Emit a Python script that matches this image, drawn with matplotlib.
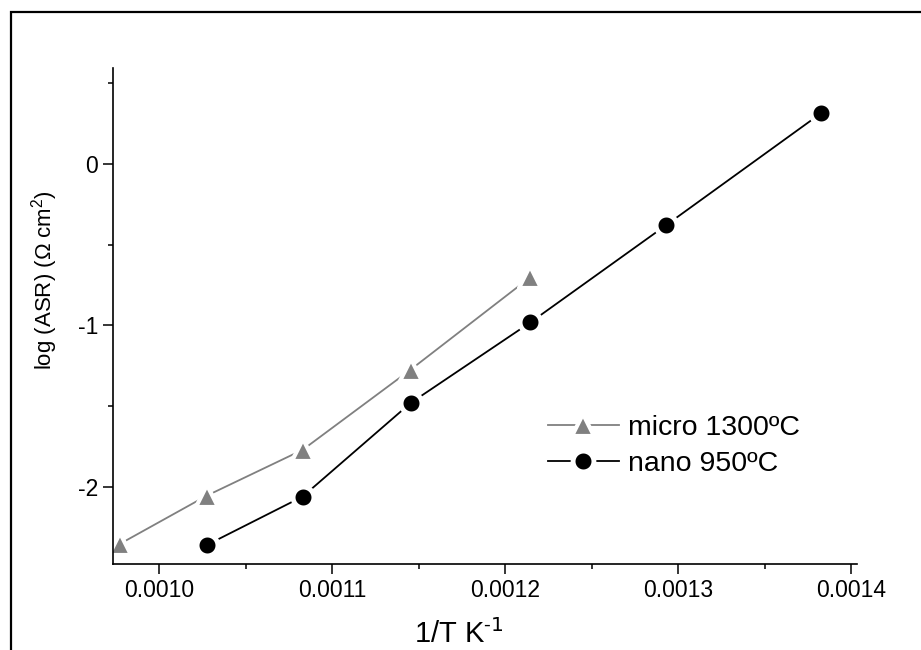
import numpy as np
import matplotlib
matplotlib.use("Agg")
from matplotlib import pyplot as plt
from matplotlib.markers import MarkerStyle
from matplotlib.patches import Rectangle
from matplotlib.ticker import MultipleLocator

# data
micro_x = [0.0009775, 0.0010275, 0.0010830, 0.0011453, 0.0012146]
micro_y = [-2.35, -2.053, -1.769, -1.274, -0.701]
nano_x = [0.0010275, 0.0010830, 0.0011453, 0.0012146, 0.0012931, 0.0013826]
nano_y = [-2.358, -2.058, -1.480, -0.981, -0.379, 0.313]
labels = ["micro 1300ºC", "nano 950ºC"]

plt.rcParams['font.family'] = ['Liberation Sans', 'DejaVu Sans']
plt.rcParams['axes.unicode_minus'] = False


def main():
    fig = plt.figure(figsize=(9.21, 6.5), dpi=100)
    # frame around the figure, cut at right and bottom
    fig.patches.append(Rectangle((11 / 921, -0.1), 2.0, 0.1 + (650 - 12) / 650,
                                 transform=fig.transFigure, fill=False,
                                 lw=1.6, ec='black'))
    ax = fig.add_axes([0.123, 0.132, 0.808, 0.763])

    tri = MarkerStyle('^', joinstyle='round')
    ax.plot(micro_x, micro_y, color='#808080', lw=1.3, marker=tri, ms=16,
            mfc='#808080', mec='white', mew=3, label=labels[0])
    ax.plot(nano_x, nano_y, color='black', lw=1.3, marker='o', ms=15,
            mfc='black', mec='white', mew=3.5, label=labels[1])

    ax.set_xlim(0.0009736, 0.0014035)
    ax.set_ylim(-2.476, 0.59)
    ax.xaxis.set_major_locator(MultipleLocator(0.0001))
    ax.xaxis.set_minor_locator(MultipleLocator(0.00005))
    ax.yaxis.set_major_locator(MultipleLocator(1))
    ax.yaxis.set_minor_locator(MultipleLocator(0.5))
    ax.xaxis.set_major_formatter(plt.FuncFormatter(lambda v, p: f"{v:.4f}"))
    ax.yaxis.set_major_formatter(plt.FuncFormatter(lambda v, p: f"{v:.0f}"))

    for s in ['top', 'right']:
        ax.spines[s].set_visible(False)
    for s in ['left', 'bottom']:
        ax.spines[s].set_linewidth(1.2)
    ax.tick_params(which='major', direction='out', length=7, width=1.1, labelsize=16.5, pad=4)
    ax.tick_params(which='minor', direction='out', length=3.5, width=1.1)

    ax.set_xlabel("1/T K$^{\\mathregular{\u2010}1}$", fontsize=21)
    ax.xaxis.set_label_coords(0.465, -0.11)
    ax.set_ylabel("log (ASR) ($\\mathregular{\\Omega}$ cm$^{\\mathregular{2}}$)", fontsize=16)
    ax.yaxis.set_label_coords(-0.072, 0.573)

    ax.legend(loc='center left', bbox_to_anchor=(0.584, 0.238), frameon=False,
              fontsize=20.5, handlelength=2.5, handletextpad=0.3, borderpad=0,
              borderaxespad=0, labelspacing=0.36)

    plt.savefig("out.png", dpi=100)
    plt.close()


if __name__ == "__main__":
    main()
